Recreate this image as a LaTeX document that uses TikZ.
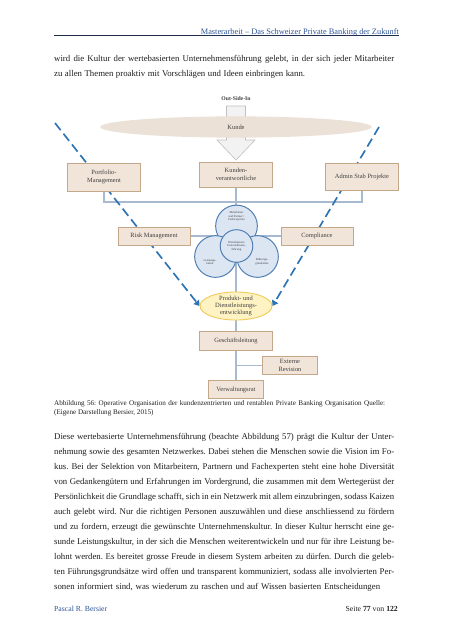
\documentclass[tikz,border=0pt]{standalone}
\usepackage{fontspec}
\setmainfont{Liberation Serif}
\usepackage{tikz}
\usetikzlibrary{arrows.meta}
\usetikzlibrary{shapes.geometric}
\frenchspacing

\definecolor{boxfill}{HTML}{F1E5D9}
\definecolor{boxline}{HTML}{C4A68A}
\definecolor{kundefill}{HTML}{EBE1D7}
\definecolor{arrowfill}{HTML}{F2F2F2}
\definecolor{arrowline}{HTML}{BFBFBF}
\definecolor{ringfill}{HTML}{DCE6F2}
\definecolor{ringline}{HTML}{4F7EB3}
\definecolor{prodfill}{HTML}{FFF3C4}
\definecolor{prodline}{HTML}{EFCB5A}
\definecolor{dashblue}{HTML}{2E74B5}
\definecolor{linkcol}{HTML}{A7BACF}
\definecolor{headblue}{HTML}{2F5597}
\definecolor{headline}{HTML}{1F2D4D}
\definecolor{bodytext}{HTML}{1E1E1E}
\definecolor{diagtext}{HTML}{404040}

\pgfdeclarelayer{bg}
\pgfsetlayers{bg,main}

\begin{document}
\begin{tikzpicture}[x={(0.046358cm,0)}, y={(0,-0.046358cm)},
	box/.style={draw=boxline, fill=boxfill, line width=0.9pt, inner sep=1pt, align=center, text=diagtext, font=\fontsize{8.5}{10}\selectfont},
	ring/.style={circle, draw=ringline, fill=ringfill, line width=1.3pt, inner sep=0pt},
	tiny/.style={align=center, inner sep=0pt, text=diagtext, font=\fontsize{4}{4.6}\selectfont},
	link/.style={draw=linkcol, line width=1.6pt},
	dasharrow/.style={draw=dashblue, line width=2.2pt, dash pattern=on 12pt off 6pt, arrows={-{Triangle[length=7pt,width=9pt]}}},
	bodyline/.style={anchor=west, inner sep=0pt, text=bodytext, font=\fontsize{11.6}{13}\selectfont},
	capline/.style={anchor=west, inner sep=0pt, text=bodytext, font=\fontsize{9.4}{11}\selectfont}]
		\begin{pgfonlayer}{bg}
			\fill[white] (0,0) rectangle (453,640);
		\end{pgfonlayer}
		\useasboundingbox (0,0) rectangle (453,640);

		\node[anchor=east, inner sep=0pt, text=headblue, font=\fontsize{11}{13}\selectfont] (head) at (399,32) {Masterarbeit – Das Schweizer Private Banking der Zukunft};
		\draw[headline, line width=0.8pt] (54,35.5) -- (399,35.5);

		\foreach \y/\w/\t [count=\n] in {
			59/448.5/{wird die Kultur der wertebasierten Unternehmensführung gelebt, in der sich jeder Mitarbeiter},
			74/331/{zu allen Themen proaktiv mit Vorschlägen und Ideen einbringen kann.}} {
			\node[bodyline] (pa\n) at (54,\y) {\makebox[\w pt][s]{\t}};
		}

		\filldraw[fill=arrowfill, draw=arrowline, line width=0.8pt] (226.5,106) -- (245.5,106) -- (245.5,140) -- (255,140) -- (236,160) -- (217,140) -- (226.5,140) -- cycle;
		\node[font=\bfseries\fontsize{7.5}{9}\selectfont, text=diagtext] (osi) at (236,99) {Out-Side-In};
		\node[ellipse, fill=kundefill, minimum width=358pt, minimum height=28pt, inner sep=0pt, text=diagtext, font=\fontsize{8.5}{10}\selectfont] (kunde) at (236,127) {Kunde};

		\node[box, minimum width=96pt, minimum height=37pt] (pm) at (104,177) {Portfolio-\\Management};
		\node[box, minimum width=96pt, minimum height=33pt] (kv) at (236,174.5) {Kunden-\\verantwortliche};
		\node[box, minimum width=97pt, minimum height=36pt] (as) at (362,177) {Admin Stab Projekte};
		\node[box, minimum width=95pt, minimum height=24pt] (rm) at (154,236) {Risk Management};
		\node[box, minimum width=95pt, minimum height=24pt] (co) at (317,236) {Compliance};

		\node[ring, minimum size=55pt] (ma) at (236.5,226) {};
		\node[ring, minimum size=55pt] (lk) at (215.5,256.5) {};
		\node[ring, minimum size=55pt] (fg) at (257.5,256.5) {};
		\node[ring, minimum size=43pt] (wf) at (236.5,246) {};
		\node[tiny] (matxt) at (236.5,216.5) {Mitarbeiter\\und Partner /\\Fachexperten};
		\node[tiny] (lktxt) at (210,262) {Leistungs-\\kultur};
		\node[tiny] (fgtxt) at (262,262) {Führungs-\\grundsätze};
		\node[tiny] (wftxt) at (wf) {Wertebasierte\\Unternehmens-\\führung};

		\node[ellipse, draw=prodline, fill=prodfill, line width=1.2pt, minimum width=95pt, minimum height=37pt, inner sep=0pt] (prod) at (236,306) {};
		\node[align=center, inner sep=0pt, text=diagtext, font=\fontsize{8.5}{9.8}\selectfont] (prodtxt) at (prod) {Produkt- und\\Dienstleistungs-\\entwicklung};

		\node[box, minimum width=96pt, minimum height=25pt] (gl) at (236,341) {Geschäftsleitung};
		\node[box, minimum width=72pt, minimum height=23pt] (er) at (290,365.5) {Externe\\Revision};
		\node[box, line width=1.3pt, minimum width=72pt, minimum height=25pt] (vr) at (236,389.5) {Verwaltungsrat};

		\coordinate (bus) at (236,202);
		\coordinate (dl) at (55,123);
		\coordinate (dr) at (379,127);
		\begin{pgfonlayer}{bg}
			\draw[link] (pm.south) |- (bus) -| (as.south);
			\draw[link] (kv.south) -- (prod.north);
			\draw[link] (rm.east) -- (co.west);
			\draw[link] (prod.south) -- (vr.north);
			\draw[link] (er.west) -- (er.west -| vr.north);
			\draw[dasharrow] (dl) -- (prod.west);
			\draw[dasharrow] (dr) -- (prod.east);
		\end{pgfonlayer}

		\node[capline] (cap1) at (54,403.5) {\makebox[436.6pt][s]{Abbildung 56: Operative Organisation der kundenzentrierten und rentablen Private Banking Organisation Quelle:}};
		\node[capline] (cap2) at (54,413) {(Eigene Darstellung Bersier, 2015)};

		\foreach \y/\w/\t [count=\n] in {
			437/448.5/{Diese wertebasierte Unternehmensführung (beachte Abbildung 57) prägt die Kultur der Unter-},
			452/448.5/{nehmung sowie des gesamten Netzwerkes. Dabei stehen die Menschen sowie die Vision im Fo-},
			467/448.5/{kus. Bei der Selektion von Mitarbeitern, Partnern und Fachexperten steht eine hohe Diversität},
			482/448.5/{von Gedankengütern und Erfahrungen im Vordergrund, die zusammen mit dem Wertegerüst der},
			497/448.5/{Persönlichkeit die Grundlage schafft, sich in ein Netzwerk mit allem einzubringen, sodass Kaizen},
			512/448.5/{auch gelebt wird. Nur die richtigen Personen auszuwählen und diese anschliessend zu fördern},
			527/448.5/{und zu fordern, erzeugt die gewünschte Unternehmenskultur. In dieser Kultur herrscht eine ge-},
			542/448.5/{sunde Leistungskultur, in der sich die Menschen weiterentwickeln und nur für ihre Leistung be-},
			557/448.5/{lohnt werden. Es bereitet grosse Freude in diesem System arbeiten zu dürfen. Durch die geleb-},
			572/448.5/{ten Führungsgrundsätze wird offen und transparent kommuniziert, sodass alle involvierten Per-},
			587/430/{sonen informiert sind, was wiederum zu raschen und auf Wissen basierten Entscheidungen}} {
			\node[bodyline] (pb\n) at (54,\y) {\makebox[\w pt][s]{\t}};
		}

		\node[anchor=west, inner sep=0pt, text=headblue, font=\fontsize{10.2}{12}\selectfont] (auth) at (54,609) {Pascal R. Bersier};
		\node[anchor=east, inner sep=0pt, text=bodytext, font=\fontsize{10.2}{12}\selectfont] (page) at (398,609) {Seite \textbf{77} von \textbf{122}};
		\end{tikzpicture}
\end{document}
